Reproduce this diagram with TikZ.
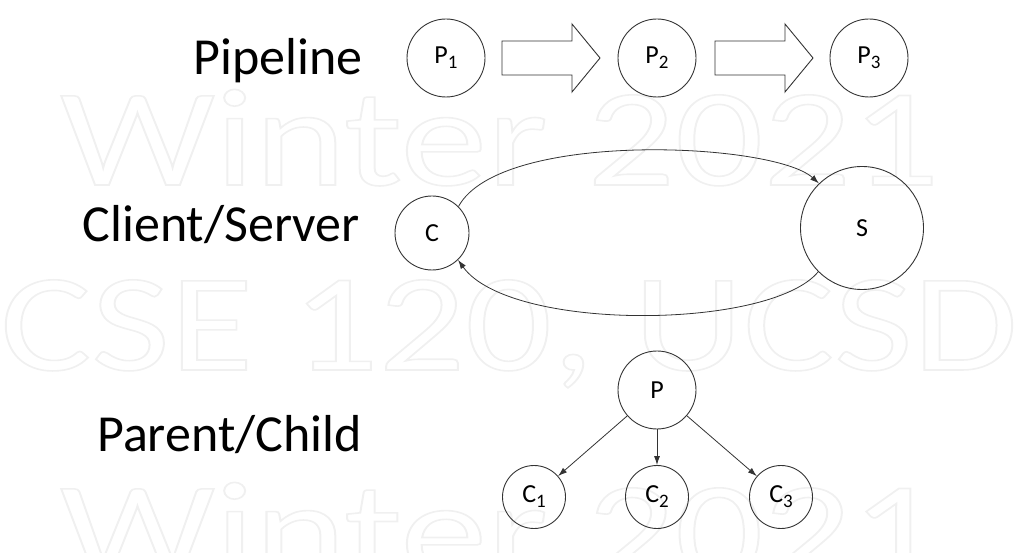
\documentclass[tikz,border=0pt]{standalone}
\usepackage{fontspec}
\setmainfont{Carlito}
\usepackage{graphicx}
\usetikzlibrary{arrows.meta}
\newcommand\outlinetext[1]{\special{pdf:literal direct 1 Tr 1.6 w}#1\special{pdf:literal direct 0 Tr}}
\newcommand\sub[1]{\raisebox{-5pt}{\fontsize{19}{19}\selectfont #1}}
\begin{document}
\begin{tikzpicture}[x=1pt,y=-1pt,
  proc/.style={circle, draw=black!80, line width=0.9pt, minimum size=78pt, inner sep=0pt, font=\fontsize{26}{26}\selectfont},
  bigproc/.style={proc, minimum size=123pt},
  smallproc/.style={proc, minimum size=63pt},
  rowlabel/.style={font=\fontsize{52}{52}\selectfont, anchor=base east, inner sep=0pt},
  conn/.style={-{Latex[length=9pt,width=6pt]}, line width=0.8pt, draw=black!80},
  blockarrow/.style={draw=black!80, line width=0.9pt, line join=miter},
  wm/.style={font=\fontsize{139}{139}\selectfont, text=black!6, anchor=base west, inner sep=0pt}]
\useasboundingbox (0,0) rectangle (1029,553);
% watermark
\node[wm] (wm1) at (60,185) {\scalebox{1.25}[1]{\outlinetext{Winter 2021}}};
\node[wm] (wm2) at (0,370) {\scalebox{1.23}[1]{\outlinetext{CSE 120, UCSD}}};
\node[wm] (wm3) at (60,578) {\scalebox{1.25}[1]{\outlinetext{Winter 2021}}};
% labels
\node[rowlabel] (lp) at (363,75) {Pipeline};
\node[rowlabel] (lc) at (360,242) {Client/Server};
\node[rowlabel] (lpc) at (362,452) {Parent/Child};
% pipeline
\node[proc] (p1) at (446,58) {P\sub{1}};
\node[proc] (p2) at (657,58) {P\sub{2}};
\node[proc] (p3) at (869,58) {P\sub{3}};
\draw[blockarrow] (502,41) -- (572,41) -- (572,24) -- (600,58) -- (572,92) -- (572,75) -- (502,75) -- cycle;
\draw[blockarrow] (715,41) -- (785,41) -- (785,24) -- (813,58) -- (785,92) -- (785,75) -- (715,75) -- cycle;
% client/server
\node[proc, minimum size=74pt] (c) at (432,233) {C};
\node[bigproc] (s) at (862,228) {S};
\draw[conn] (c.45) .. controls (500,130) and (773,142) .. (s.134);
\draw[conn] (s.225) .. controls (770,330) and (510,332) .. (c.314);
% parent/child
\node[proc] (p) at (657,390) {P};
\node[smallproc] (c1) at (534,497) {C\sub{1}};
\node[smallproc] (c2) at (657,497) {C\sub{2}};
\node[smallproc] (c3) at (781,497) {C\sub{3}};
\draw[conn] (p) -- (c1);
\draw[conn] (p) -- (c2);
\draw[conn] (p) -- (c3);
\end{tikzpicture}
\end{document}
